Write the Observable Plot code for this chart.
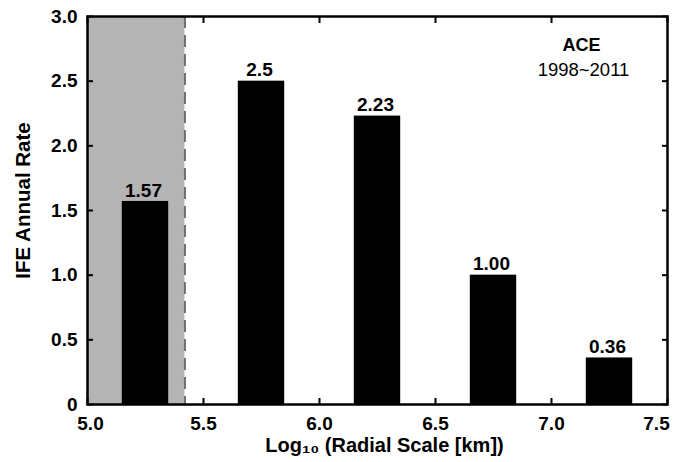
<!DOCTYPE html>
<html>
<head>
<meta charset="utf-8">
<script src="https://cdn.jsdelivr.net/npm/d3@7"></script>
<script src="https://cdn.jsdelivr.net/npm/@observablehq/plot@0.6"></script>
<style>
  html, body { margin: 0; padding: 0; background: #fff; }
  #chart svg { display: block; font-family: "Liberation Sans", Arial, Helvetica, sans-serif; }
</style>
</head>
<body>
<div id="chart"></div>
<script>
// Bin centres of log10(radial scale in km) and annual IFE rates
const binCenters = [5.25, 5.75, 6.25, 6.75, 7.25];
const binWidth = 0.2;
const rates = [1.57, 2.5, 2.23, 1.00, 0.36];
const rateLabels = ["1.57", "2.5", "2.23", "1.00", "0.36"];

// Shaded range below the resolution limit
const shadeStart = 5.0;
const shadeEnd = 5.42;

// Axis ranges and ticks
const xDomain = [5.0, 7.5];
const yDomain = [0, 3.0];
const xTicks = [5.0, 5.5, 6.0, 6.5, 7.0, 7.5];
const yTicks = [0, 0.5, 1.0, 1.5, 2.0, 2.5, 3.0];

const xTitle = "Log\u2081\u2080 (Radial Scale [km])";
const yTitle = "IFE Annual Rate";
const mission = "ACE";
const period = "1998~2011";

const bars = binCenters.map((c, i) => ({
  x1: c - binWidth / 2,
  x2: c + binWidth / 2,
  center: c,
  rate: rates[i],
  label: rateLabels[i]
}));

const fmtY = d => d === 0 ? "0" : d.toFixed(1);
const fmtX = d => d.toFixed(1);

const tickFont = { fontSize: 19, fontWeight: "bold" };
const xLabelAxis = (ticks, dx) => Plot.axisX(ticks, {
  anchor: "bottom", tickSize: 0, tickPadding: 12, tickFormat: fmtX,
  dx, label: null, ...tickFont
});

const chart = Plot.plot({
  width: 680,
  height: 462,
  marginLeft: 87,
  marginRight: 13,
  marginTop: 16,
  marginBottom: 58,
  style: { fontFamily: "Liberation Sans, Arial, sans-serif", background: "#fff" },
  x: { domain: xDomain },
  y: { domain: yDomain },
  marks: [
    Plot.rect([{ a: shadeStart, b: shadeEnd }], {
      x1: "a", x2: "b", y1: yDomain[0], y2: yDomain[1], fill: "#b4b4b4"
    }),
    Plot.ruleX([shadeEnd], { stroke: "#707070", strokeWidth: 2, strokeDasharray: "12,7" }),
    Plot.rectY(bars, { x1: "x1", x2: "x2", y: "rate", fill: "#000" }),
    Plot.text(bars, {
      x: "center", y: "rate", text: "label",
      dx: -2, dy: -11, lineAnchor: "middle",
      fontSize: 19, fontWeight: "bold", fill: "#000"
    }),
    Plot.text([mission], {
      frameAnchor: "top-right", dx: -86, dy: 29,
      lineAnchor: "middle", textAnchor: "middle",
      fontSize: 18, fontWeight: "bold", fill: "#000"
    }),
    Plot.text([period], {
      frameAnchor: "top-right", dx: -84, dy: 54,
      lineAnchor: "middle", textAnchor: "middle",
      fontSize: 18.5, fill: "#000"
    }),
    // inward ticks on all four sides
    Plot.axisX(xTicks, { anchor: "bottom", tickSize: -6, tickFormat: () => "", strokeWidth: 2, label: null }),
    Plot.axisX(xTicks, { anchor: "top", tickSize: -6, tickFormat: () => "", strokeWidth: 2, label: null }),
    Plot.axisY(yTicks, { anchor: "left", tickSize: -6, tickFormat: () => "", strokeWidth: 2, label: null }),
    Plot.axisY(yTicks, { anchor: "right", tickSize: -6, tickFormat: () => "", strokeWidth: 2, label: null }),
    // tick labels; the end labels are nudged inside the frame
    xLabelAxis(xTicks.slice(1, -1), 0),
    xLabelAxis(xTicks.slice(0, 1), 3),
    xLabelAxis(xTicks.slice(-1), -11),
    Plot.axisY(yTicks, {
      anchor: "left", tickSize: 0, tickPadding: 10, tickFormat: fmtY,
      label: null, ...tickFont
    }),
    // axis titles
    Plot.text([xTitle], {
      frameAnchor: "bottom", dx: 7, dy: 41, lineAnchor: "middle", textAnchor: "middle",
      fontSize: 20, fontWeight: "bold", fill: "#000"
    }),
    Plot.text([yTitle], {
      frameAnchor: "left", dx: -64, dy: -10, rotate: -90,
      lineAnchor: "middle", textAnchor: "middle",
      fontSize: 20.5, fontWeight: "bold", fill: "#000"
    }),
    Plot.frame({ stroke: "#000", strokeWidth: 2.5 })
  ]
});

document.getElementById("chart").appendChild(chart);
</script>
</body>
</html>
